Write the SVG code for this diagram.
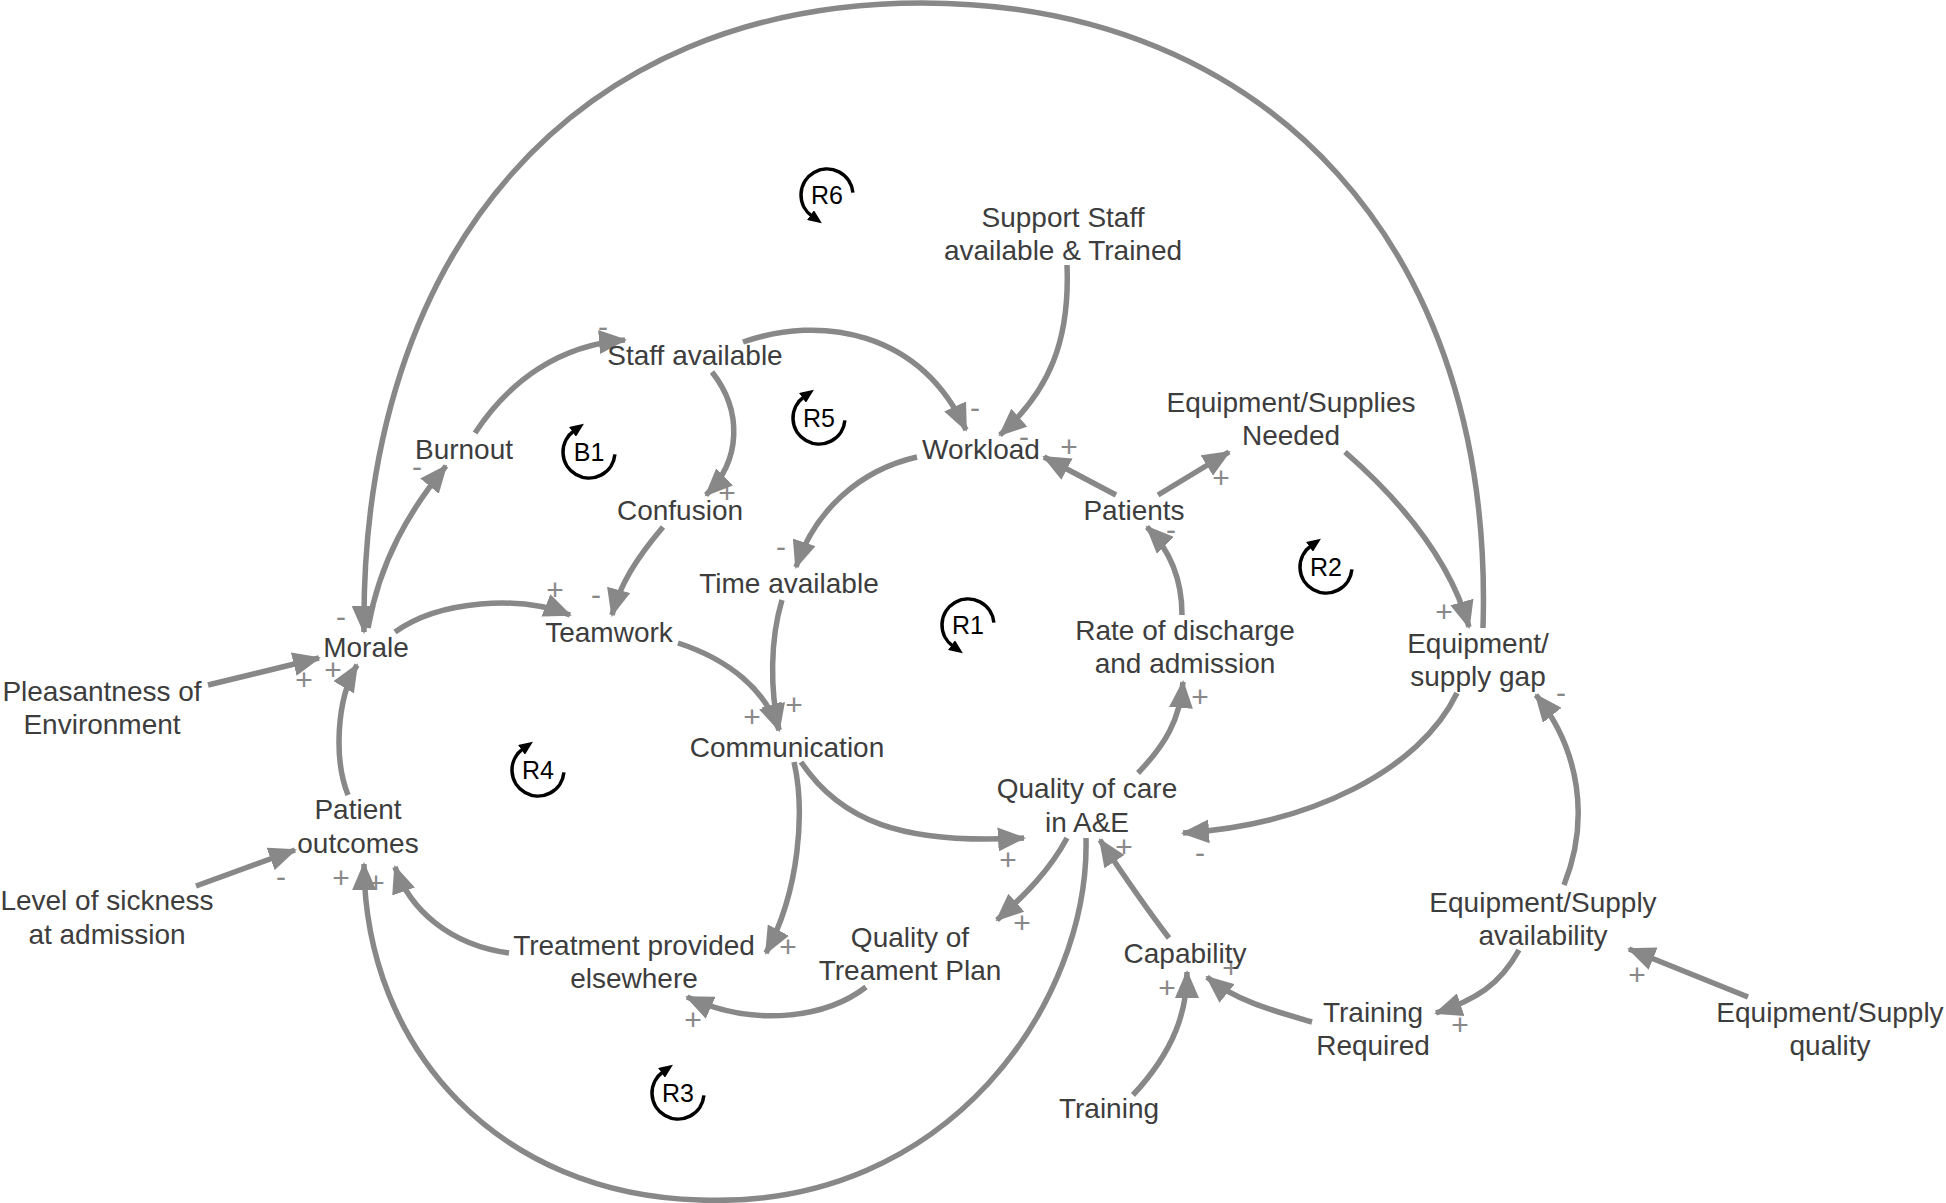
<svg xmlns="http://www.w3.org/2000/svg" width="1946" height="1203" viewBox="0 0 1946 1203">
<style>
.lbl{font-family:"Liberation Sans",Arial,sans-serif;font-size:28px;fill:#3d3d3d;text-anchor:middle}
.sg{font-family:"Liberation Sans",Arial,sans-serif;font-size:30px;fill:#888;text-anchor:middle}
.c{fill:none;stroke:#888;stroke-width:5.5;marker-end:url(#ah)}
.lp{fill:none;stroke:#000;stroke-width:3.5;marker-end:url(#ahb)}
.lt{font-family:"Liberation Sans",Arial,sans-serif;font-size:25px;fill:#000;text-anchor:middle}
</style>
<defs>
<marker id="ah" markerUnits="userSpaceOnUse" viewBox="0 0 28 24" markerWidth="28" markerHeight="24" refX="26" refY="12" orient="auto"><path d="M0,0 L28,12 L0,24 z" fill="#888"/></marker>
<marker id="ahb" markerUnits="userSpaceOnUse" viewBox="0 0 14 12" markerWidth="14" markerHeight="12" refX="2" refY="6" orient="auto"><path d="M0,0 L14,6 L0,12 z" fill="#000"/></marker>
<g id="lcw"><path class="lp" d="M25.9,2.3 A26 26 0 1 1 -14.9,-21.3"/></g>
<g id="lccw"><path class="lp" d="M25.9,-2.3 A26 26 0 1 0 -14.9,21.3"/></g>
</defs>
<rect width="1946" height="1203" fill="#fff"/>

<g id="connectors">
<path class="c" d="M1483,628 C1495,250 1270,3 922,3 C575,3 360,250 364,632"/>
<path class="c" d="M368,628 C380,560 410,510 446,466"/>
<path class="c" d="M475,433 C510,380 560,345 625,340"/>
<path class="c" d="M743,342 C820,315 920,330 966,430"/>
<path class="c" d="M712,372 C742,410 742,460 706,495"/>
<path class="c" d="M663,527 C635,560 620,585 612,615"/>
<path class="c" d="M395,632 C440,600 520,595 570,615"/>
<path class="c" d="M208,685 L319,658"/>
<path class="c" d="M348,795 C334,760 336,700 357,665"/>
<path class="c" d="M196,886 L295,850"/>
<path class="c" d="M678,643 C730,660 765,690 779,730"/>
<path class="c" d="M782,600 C770,640 770,690 779,730"/>
<path class="c" d="M917,457 C860,470 815,510 796,567"/>
<path class="c" d="M1067,265 C1070,340 1050,390 1000,435"/>
<path class="c" d="M1116,495 L1044,457"/>
<path class="c" d="M1158,495 L1229,452"/>
<path class="c" d="M1182,615 C1182,580 1170,550 1147,527"/>
<path class="c" d="M1138,773 C1165,745 1180,720 1183,682"/>
<path class="c" d="M1345,452 C1400,500 1450,560 1469,627"/>
<path class="c" d="M1457,693 C1420,770 1310,825 1183,833"/>
<path class="c" d="M1564,885 C1590,820 1580,750 1536,695"/>
<path class="c" d="M1519,950 C1500,985 1475,1000 1436,1013"/>
<path class="c" d="M1748,997 L1629,949"/>
<path class="c" d="M1312,1022 C1270,1010 1235,1000 1207,977"/>
<path class="c" d="M1133,1095 C1175,1050 1187,1010 1187,972"/>
<path class="c" d="M1169,938 C1140,900 1120,870 1100,840"/>
<path class="c" d="M801,762 C840,820 900,845 1024,838"/>
<path class="c" d="M1067,838 C1050,870 1025,895 997,920"/>
<path class="c" d="M794,762 C805,810 800,890 766,953"/>
<path class="c" d="M866,987 C830,1015 760,1030 687,997"/>
<path class="c" d="M509,953 C450,945 410,910 395,867"/>
<path class="c" d="M1086,838 C1090,1000 950,1210 700,1200 C500,1195 365,1050 364,864"/>
</g>

<g id="signs">
<text class="sg" x="341" y="627">-</text>
<text class="sg" x="417" y="477">-</text>
<text class="sg" x="603" y="337">-</text>
<text class="sg" x="975" y="418">-</text>
<text class="sg" x="727" y="503">+</text>
<text class="sg" x="596" y="605">-</text>
<text class="sg" x="555" y="600">+</text>
<text class="sg" x="304" y="690">+</text>
<text class="sg" x="333" y="680">+</text>
<text class="sg" x="281" y="887">-</text>
<text class="sg" x="752" y="727">+</text>
<text class="sg" x="794" y="715">+</text>
<text class="sg" x="781" y="557">-</text>
<text class="sg" x="1024" y="447">-</text>
<text class="sg" x="1069" y="457">+</text>
<text class="sg" x="1221" y="488">+</text>
<text class="sg" x="1171" y="540">-</text>
<text class="sg" x="1200" y="707">+</text>
<text class="sg" x="1444" y="622">+</text>
<text class="sg" x="1200" y="863">-</text>
<text class="sg" x="1561" y="703">-</text>
<text class="sg" x="1460" y="1035">+</text>
<text class="sg" x="1637" y="985">+</text>
<text class="sg" x="1231" y="978">+</text>
<text class="sg" x="1167" y="998">+</text>
<text class="sg" x="1124" y="857">+</text>
<text class="sg" x="1008" y="870">+</text>
<text class="sg" x="1022" y="933">+</text>
<text class="sg" x="788" y="957">+</text>
<text class="sg" x="693" y="1030">+</text>
<text class="sg" x="376" y="893">+</text>
<text class="sg" x="341" y="888">+</text>
</g>

<g id="loops">
<g id="loop-R6"><use href="#lccw" x="827" y="195"/><text class="lt" x="827" y="204">R6</text></g>
<g id="loop-B1"><use href="#lcw" x="589" y="452"/><text class="lt" x="589" y="461">B1</text></g>
<g id="loop-R5"><use href="#lcw" x="819" y="418"/><text class="lt" x="819" y="427">R5</text></g>
<g id="loop-R1"><use href="#lccw" x="968" y="625"/><text class="lt" x="968" y="634">R1</text></g>
<g id="loop-R2"><use href="#lcw" x="1326" y="567"/><text class="lt" x="1326" y="576">R2</text></g>
<g id="loop-R4"><use href="#lcw" x="538" y="770"/><text class="lt" x="538" y="779">R4</text></g>
<g id="loop-R3"><use href="#lcw" x="678" y="1093"/><text class="lt" x="678" y="1102">R3</text></g>
</g>

<g id="n-support"><text class="lbl" x="1063" y="227">Support Staff</text><text class="lbl" x="1063" y="260">available &amp; Trained</text></g>
<g id="n-staff"><text class="lbl" x="695" y="365">Staff available</text></g>
<g id="n-burnout"><text class="lbl" x="464" y="459">Burnout</text></g>
<g id="n-confusion"><text class="lbl" x="680" y="520">Confusion</text></g>
<g id="n-workload"><text class="lbl" x="981" y="459">Workload</text></g>
<g id="n-patients"><text class="lbl" x="1134" y="520">Patients</text></g>
<g id="n-needed"><text class="lbl" x="1291" y="412">Equipment/Supplies</text><text class="lbl" x="1291" y="445">Needed</text></g>
<g id="n-time"><text class="lbl" x="789" y="593">Time available</text></g>
<g id="n-rate"><text class="lbl" x="1185" y="640">Rate of discharge</text><text class="lbl" x="1185" y="673">and admission</text></g>
<g id="n-gap"><text class="lbl" x="1478" y="653">Equipment/</text><text class="lbl" x="1478" y="686">supply gap</text></g>
<g id="n-morale"><text class="lbl" x="366" y="657">Morale</text></g>
<g id="n-teamwork"><text class="lbl" x="609" y="642">Teamwork</text></g>
<g id="n-pleasant"><text class="lbl" x="102" y="701">Pleasantness of</text><text class="lbl" x="102" y="734">Environment</text></g>
<g id="n-comm"><text class="lbl" x="787" y="757">Communication</text></g>
<g id="n-outcomes"><text class="lbl" x="358" y="819">Patient</text><text class="lbl" x="358" y="853">outcomes</text></g>
<g id="n-sickness"><text class="lbl" x="107" y="910">Level of sickness</text><text class="lbl" x="107" y="944">at admission</text></g>
<g id="n-quality"><text class="lbl" x="1087" y="798">Quality of care</text><text class="lbl" x="1087" y="832">in A&amp;E</text></g>
<g id="n-elsewhere"><text class="lbl" x="634" y="955">Treatment provided</text><text class="lbl" x="634" y="988">elsewhere</text></g>
<g id="n-plan"><text class="lbl" x="910" y="947">Quality of</text><text class="lbl" x="910" y="980">Treament Plan</text></g>
<g id="n-capability"><text class="lbl" x="1185" y="963">Capability</text></g>
<g id="n-availability"><text class="lbl" x="1543" y="912">Equipment/Supply</text><text class="lbl" x="1543" y="945">availability</text></g>
<g id="n-trainreq"><text class="lbl" x="1373" y="1022">Training</text><text class="lbl" x="1373" y="1055">Required</text></g>
<g id="n-supplyq"><text class="lbl" x="1830" y="1022">Equipment/Supply</text><text class="lbl" x="1830" y="1055">quality</text></g>
<g id="n-training"><text class="lbl" x="1109" y="1118">Training</text></g>
</svg>
